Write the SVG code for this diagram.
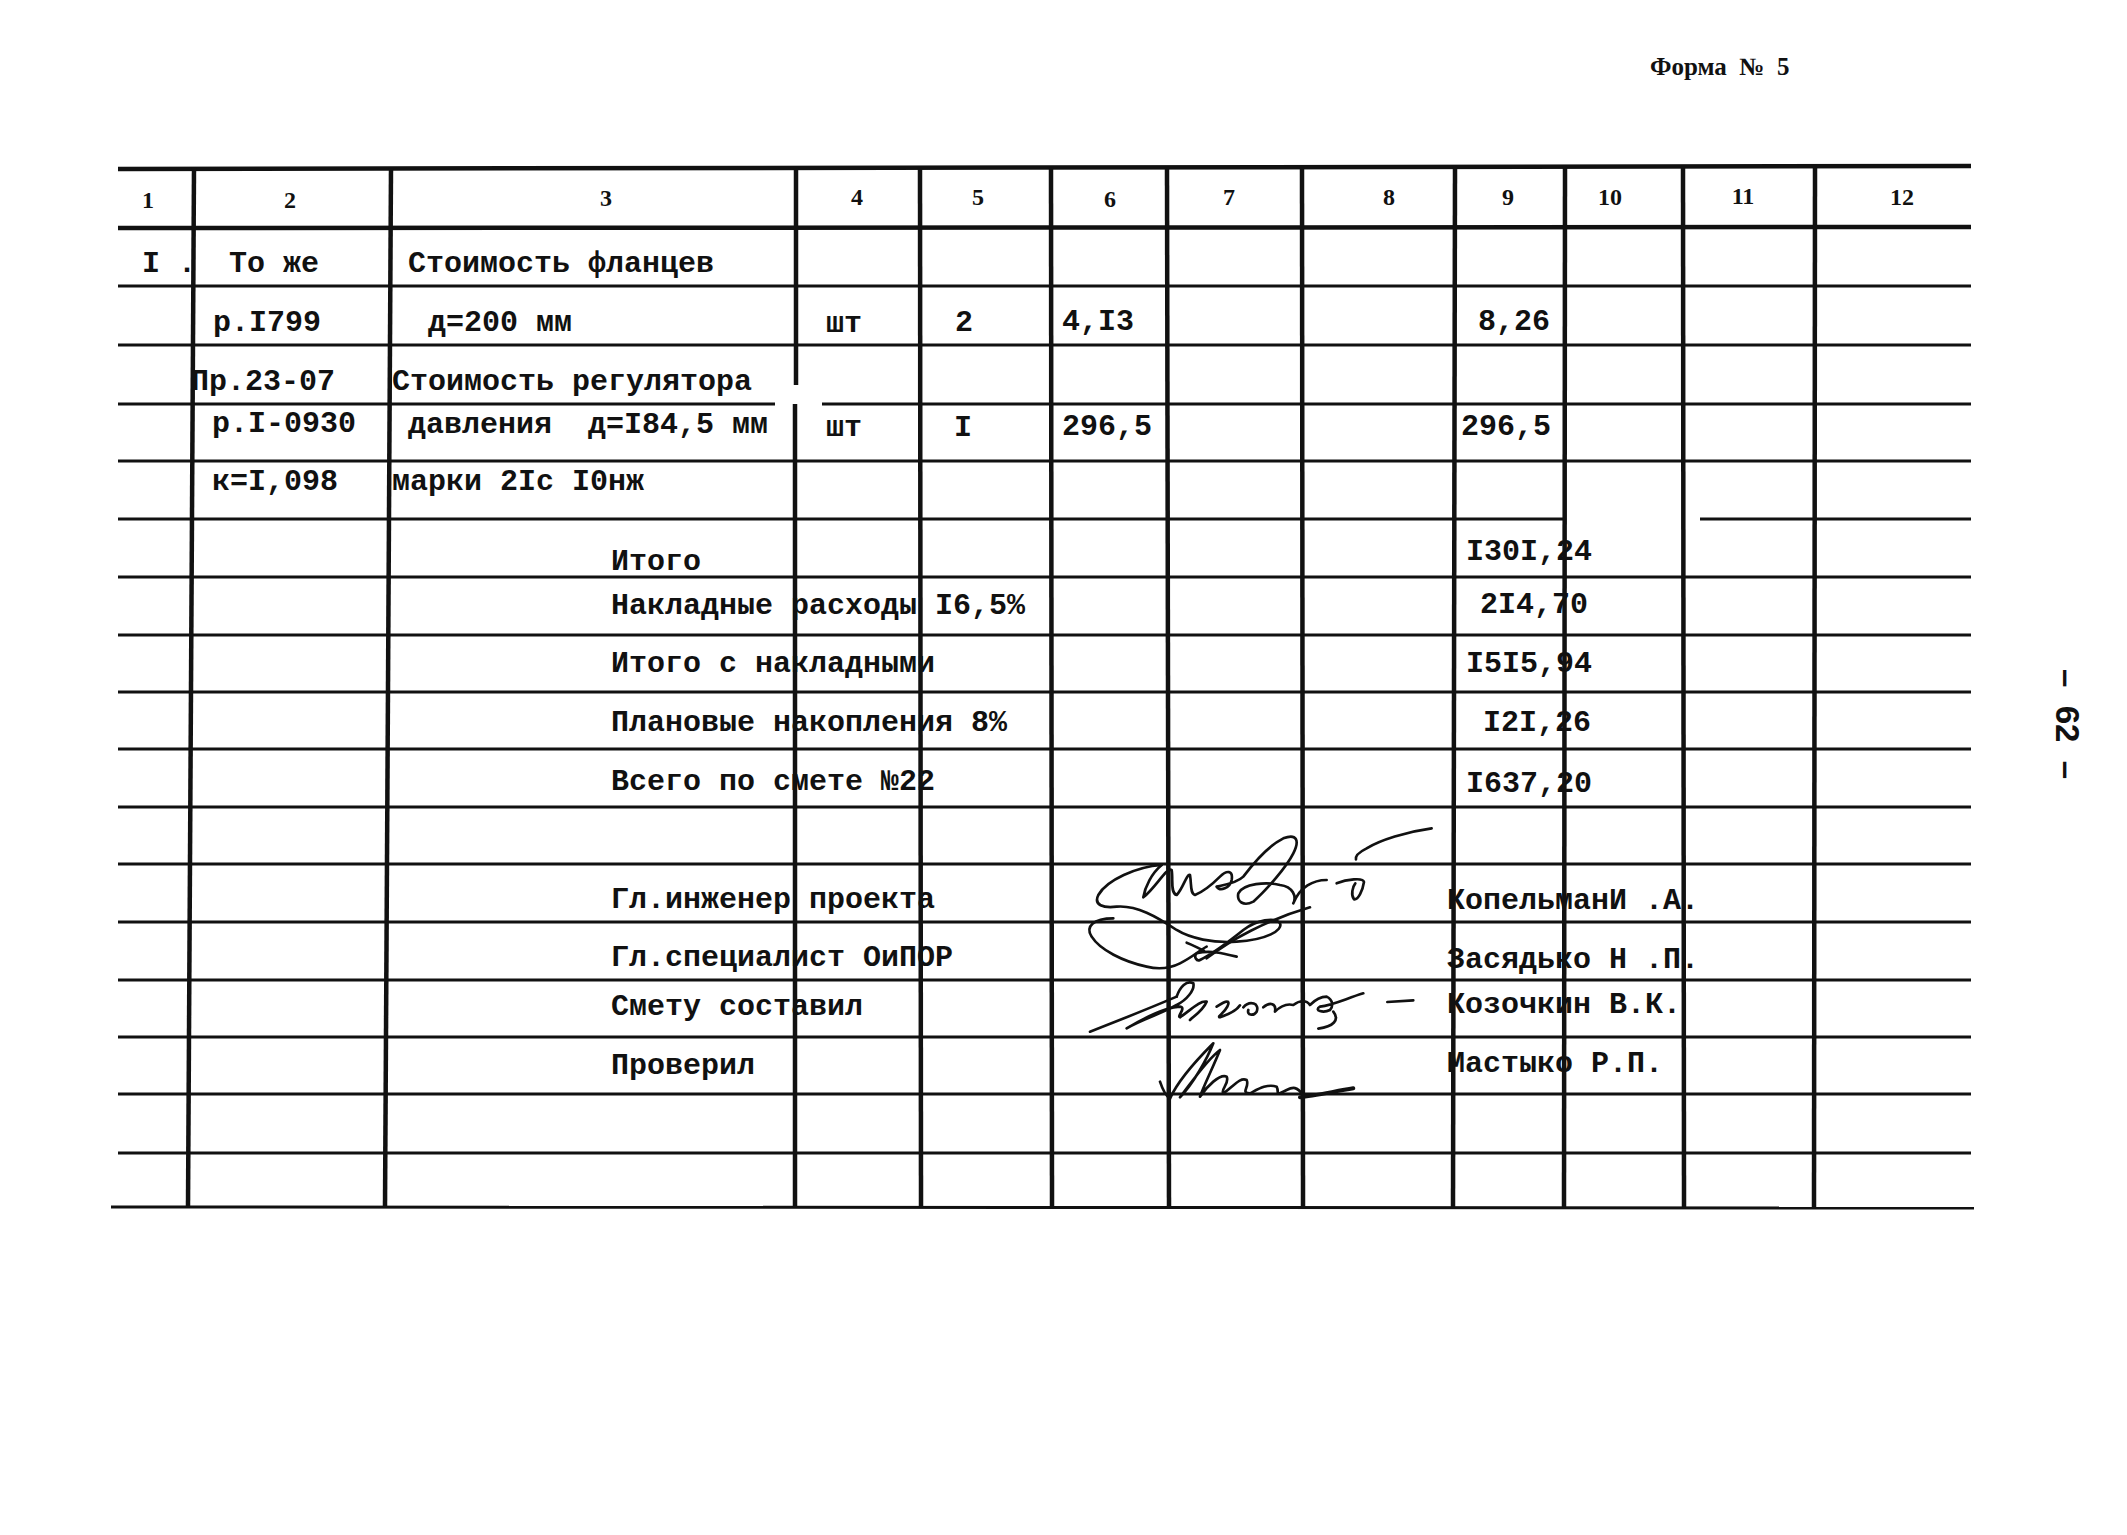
<svg xmlns="http://www.w3.org/2000/svg" width="2127" height="1535" viewBox="0 0 2127 1535">
<style>
.h{font-family:"Liberation Serif",serif;font-weight:bold;font-size:24px;text-anchor:middle;fill:#111}
.t{font-family:"Liberation Mono",monospace;font-weight:bold;font-size:30px;fill:#111;white-space:pre}
.ln{stroke:#111;stroke-width:3;fill:none}
.th{stroke:#111;stroke-width:4.5;fill:none}
.sig{stroke:#111;stroke-width:8;fill:none;stroke-linecap:round;stroke-linejoin:round}
</style>
<rect width="2127" height="1535" fill="#fff"/>
<text id="form-title" x="1650" y="75" style="font-family:'Liberation Serif',serif;font-size:25px;font-weight:bold;fill:#111;white-space:pre">Форма  №  5</text>
<text id="page-number" transform="translate(2068,724) rotate(90)" dy="0.35em" style="font-family:'Liberation Sans',sans-serif;font-size:33px;font-weight:bold;text-anchor:middle;fill:#111;white-space:pre">–  62  –</text>

<g id="grid">
  <line class="th" x1="118" y1="169" x2="1971" y2="166"/>
  <line class="th" x1="118" y1="228" x2="1971" y2="227"/>
  <line class="ln" x1="118" y1="286" x2="1971" y2="286"/>
  <line class="ln" x1="118" y1="345" x2="1971" y2="345"/>
  <line class="ln" x1="118" y1="404" x2="775" y2="404"/>
  <line class="ln" x1="822" y1="404" x2="1971" y2="404"/>
  <line class="ln" x1="118" y1="461" x2="1971" y2="461"/>
  <line class="ln" x1="118" y1="519" x2="1566" y2="519"/>
  <line class="ln" x1="1700" y1="519" x2="1971" y2="519"/>
  <line class="ln" x1="118" y1="577" x2="1971" y2="577"/>
  <line class="ln" x1="118" y1="635" x2="1971" y2="635"/>
  <line class="ln" x1="118" y1="692" x2="1971" y2="692"/>
  <line class="ln" x1="118" y1="749" x2="1971" y2="749"/>
  <line class="ln" x1="118" y1="807" x2="1971" y2="807"/>
  <line class="ln" x1="118" y1="864" x2="1971" y2="864"/>
  <line class="ln" x1="118" y1="922" x2="1971" y2="922"/>
  <line class="ln" x1="118" y1="980" x2="1971" y2="980"/>
  <line class="ln" x1="118" y1="1037" x2="1971" y2="1037"/>
  <line class="ln" x1="118" y1="1094" x2="1971" y2="1094"/>
  <line class="ln" x1="118" y1="1153" x2="1971" y2="1153"/>
  <line class="ln" x1="111" y1="1207" x2="1974" y2="1208"/>

  <line class="th" x1="194" y1="168" x2="188" y2="1207"/>
  <line class="th" x1="391" y1="168" x2="385" y2="1207"/>
  <line class="th" x1="796" y1="168" x2="796" y2="385"/>
  <line class="th" x1="795" y1="404" x2="795" y2="1207"/>
  <line class="th" x1="920" y1="168" x2="921" y2="1207"/>
  <line class="th" x1="1051" y1="168" x2="1052" y2="1207"/>
  <line class="th" x1="1167" y1="168" x2="1169" y2="1207"/>
  <line class="th" x1="1302" y1="168" x2="1303" y2="1207"/>
  <line class="th" x1="1455" y1="167" x2="1453" y2="1207"/>
  <line class="th" x1="1565" y1="167" x2="1564" y2="1207"/>
  <line class="th" x1="1683" y1="167" x2="1684" y2="1207"/>
  <line class="th" x1="1815" y1="167" x2="1814" y2="1207"/>
</g>

<g id="header">
  <text class="h" x="148" y="208">1</text>
  <text class="h" x="290" y="208">2</text>
  <text class="h" x="606" y="206">3</text>
  <text class="h" x="857" y="205">4</text>
  <text class="h" x="978" y="205">5</text>
  <text class="h" x="1110" y="207">6</text>
  <text class="h" x="1229" y="205">7</text>
  <text class="h" x="1389" y="205">8</text>
  <text class="h" x="1508" y="205">9</text>
  <text class="h" x="1610" y="205">10</text>
  <text class="h" x="1743" y="204">11</text>
  <text class="h" x="1902" y="205">12</text>
</g>

<g id="row-items">
  <text class="t" x="142" y="272">I .</text>
  <text class="t" x="229" y="272">То же</text>
  <text class="t" x="408" y="272">Стоимость фланцев</text>

  <text class="t" x="213" y="331">р.I799</text>
  <text class="t" x="428" y="331">д=200 мм</text>
  <text class="t" x="826" y="332">шт</text>
  <text class="t" x="955" y="331">2</text>
  <text class="t" x="1062" y="330">4,I3</text>
  <text class="t" x="1478" y="330">8,26</text>

  <text class="t" x="191" y="390">Пр.23-07</text>
  <text class="t" x="392" y="390">Стоимость регулятора</text>

  <text class="t" x="212" y="432">р.I-0930</text>
  <text class="t" x="408" y="433">давления  д=I84,5 мм</text>
  <text class="t" x="826" y="436">шт</text>
  <text class="t" x="954" y="436">I</text>
  <text class="t" x="1062" y="435">296,5</text>
  <text class="t" x="1461" y="435">296,5</text>

  <text class="t" x="212" y="490">к=I,098</text>
  <text class="t" x="392" y="490">марки 2Ic I0нж</text>
</g>

<g id="totals">
  <text class="t" x="611" y="570">Итого</text>
  <text class="t" x="1466" y="560">I30I,24</text>
  <text class="t" x="611" y="614">Накладные расходы I6,5%</text>
  <text class="t" x="1480" y="613">2I4,70</text>
  <text class="t" x="611" y="672">Итого с накладными</text>
  <text class="t" x="1466" y="672">I5I5,94</text>
  <text class="t" x="611" y="731">Плановые накопления 8%</text>
  <text class="t" x="1483" y="731">I2I,26</text>
  <text class="t" x="611" y="790">Всего по смете №22</text>
  <text class="t" x="1466" y="792">I637,20</text>
</g>

<g id="signoff">
  <text class="t" x="611" y="908">Гл.инженер проекта</text>
  <text class="t" x="1447" y="909">КопельманИ .А.</text>
  <text class="t" x="611" y="966">Гл.специалист ОиПОР</text>
  <text class="t" x="1447" y="968">Засядько Н .П.</text>
  <text class="t" x="611" y="1015">Смету составил</text>
  <text class="t" x="1447" y="1013">Козочкин В.К.</text>
  <text class="t" x="611" y="1074">Проверил</text>
  <text class="t" x="1447" y="1072">Мастыко Р.П.</text>
</g>

<g id="signatures" transform="translate(1080,820) scale(0.3333)">
  <path class="sig" d="M1055,25 C980,35 900,60 860,85 C840,95 825,105 828,118"/>
  <path class="sig" d="M770,190 C800,178 850,172 852,186 C848,212 835,240 822,238 C812,224 818,200 826,190"/>
  <path class="sig" d="M245,135 C215,160 195,200 190,232 C230,200 260,140 275,150 C280,175 270,220 290,225 C310,205 320,160 330,165 C335,195 330,220 345,225 C370,215 400,190 420,170 C440,150 460,150 455,180 C450,205 420,215 410,200 C430,195 470,190 490,170 C520,130 560,80 610,55 C650,40 660,60 640,100 C620,140 560,210 520,245 C490,260 470,245 475,220 C490,190 560,185 600,195 C640,200 650,230 640,250 C660,200 700,180 740,180"/>
  <path class="sig" d="M245,135 C170,140 80,180 55,225 C40,255 70,265 110,260 C170,255 230,290 290,330 C330,355 400,370 470,365 C560,360 610,330 600,310 C585,290 530,300 490,330 C440,370 400,400 360,420 C350,425 340,410 350,400 C390,390 430,400 470,410"/>
  <path class="sig" d="M100,295 C40,295 15,320 35,350 C60,390 130,425 200,440 C240,450 270,445 300,430 C340,410 360,390 380,380"/>
  <path class="sig" d="M320,368 C340,375 355,385 372,392"/>
  <path class="sig" d="M380,415 C450,360 560,300 690,262"/>
  <path class="sig" d="M30,635 C120,600 220,560 290,530"/>
  <path class="sig" d="M290,530 C300,500 320,480 340,490 C345,510 320,540 290,555 C260,575 180,600 140,625 C200,590 260,560 300,560 C320,562 290,590 300,592 C330,572 360,540 380,545 C370,570 340,590 330,600"/>
  <path class="sig" d="M410,560 C440,540 452,540 442,560 C432,580 410,590 420,592 C450,582 470,572 480,556"/>
  <path class="sig" d="M490,562 C510,540 540,550 530,575 C520,590 500,585 505,570 M550,562 C570,545 590,550 585,575 C600,560 620,550 640,555 C660,540 680,540 690,555 C700,545 720,530 740,530 C760,540 760,560 750,570 C730,580 700,572 720,560 C760,555 800,535 850,520"/>
  <path class="sig" d="M760,575 C780,600 760,620 715,626"/>
  <path class="sig" d="M922,546 L1000,541"/>
  <path class="sig" d="M240,785 C250,815 258,828 270,836 C290,790 330,740 400,670 C380,720 340,790 300,832 C340,780 380,720 420,690 C400,740 370,800 360,830 C380,800 420,760 440,770 C450,790 420,810 430,820 C460,800 480,770 500,780 C510,800 480,820 510,820 C530,810 560,790 590,800 C600,820 580,830 620,810 C640,800 650,800 670,825"/>
  <path class="sig" style="stroke-width:12" d="M660,832 C700,828 760,815 820,805"/>
</g>
</svg>
